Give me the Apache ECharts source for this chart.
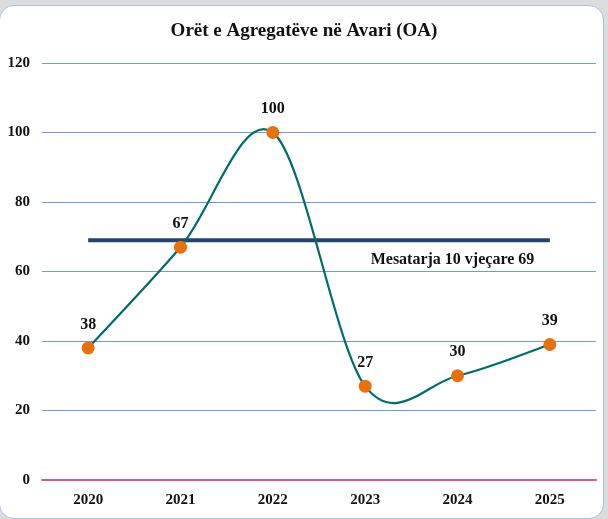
<!DOCTYPE html>
<html>
<head>
<meta charset="utf-8">
<script src="https://cdn.jsdelivr.net/npm/echarts@6/dist/echarts.min.js"></script>
<style>
  html, body { margin: 0; padding: 0; background: #dcdcdc; }
  #frame {
    position: absolute; left: -1px; top: 5px; width: 603px; height: 512px;
    background: #fff; border: 1.5px solid #a9c1e3; border-radius: 15px;
  }
  #chart { position: absolute; left: 0; top: 0; width: 608px; height: 519px; }
</style>
</head>
<body>
<div id="frame"></div>
<div id="chart"></div>
<script>
// te dhenat e grafikut
var years = ['2020', '2021', '2022', '2023', '2024', '2025'];
var hours = [38, 67, 100, 27, 30, 39];
var average = [69, 69, 69, 69, 69, 69];
var averageText = 'Mesatarja 10 vjeçare 69';
var yMin = 0, yMax = 120, yStep = 20;

var serif = '"Liberation Serif", "DejaVu Serif", serif';
var chart = echarts.init(document.getElementById('chart'), null, { renderer: 'canvas' });

// kurba e lemuar si ne Excel (Catmull-Rom), nje segment per cdo pike
function renderCurve(params, api) {
  var i = params.dataIndex;
  var n = hours.length;
  if (i >= n - 1) return null;
  var pt = function (k) {
    k = Math.max(0, Math.min(n - 1, k));
    return api.coord([k, hours[k]]);
  };
  var p0 = pt(i - 1), p1 = pt(i), p2 = pt(i + 1), p3 = pt(i + 2);
  return {
    type: 'bezierCurve',
    shape: {
      x1: p1[0], y1: p1[1],
      x2: p2[0], y2: p2[1],
      cpx1: p1[0] + (p2[0] - p0[0]) / 6, cpy1: p1[1] + (p2[1] - p0[1]) / 6,
      cpx2: p2[0] - (p3[0] - p1[0]) / 6, cpy2: p2[1] - (p3[1] - p1[1]) / 6
    },
    style: { stroke: '#006d6b', lineWidth: 2.2, fill: null }
  };
}

var averageData = average.map(function (v, i) {
  if (i !== 4) return v;
  return {
    value: v,
    label: {
      show: true,
      position: 'bottom',
      distance: 12,
      offset: [-5, 0],
      formatter: averageText,
      fontFamily: serif,
      fontWeight: 'bold',
      fontSize: 16,
      color: '#111'
    }
  };
});

var option = {
  backgroundColor: 'transparent',
  animation: false,
  title: {
    text: 'Orët e Agregatëve në Avari (OA)',
    left: 'center',
    top: 17,
    textStyle: { fontFamily: serif, fontWeight: 'bold', fontSize: 19, color: '#111' }
  },
  grid: { left: 42, right: 12, top: 63, bottom: 39 },
  xAxis: {
    type: 'category',
    data: years,
    axisLine: { show: true, lineStyle: { color: '#e0569a', width: 2 } },
    axisTick: { show: false },
    axisLabel: { fontFamily: serif, fontWeight: 'bold', fontSize: 15, color: '#111', margin: 13 }
  },
  yAxis: {
    type: 'value',
    min: yMin,
    max: yMax,
    interval: yStep,
    axisLine: { show: false },
    axisTick: { show: false },
    axisLabel: { fontFamily: serif, fontWeight: 'bold', fontSize: 15, color: '#111', margin: 12 },
    splitLine: { lineStyle: { color: '#6f9bd8', width: 1 } }
  },
  series: [
    {
      name: 'mesatarja',
      type: 'line',
      data: averageData,
      symbol: 'circle',
      symbolSize: 0,
      showSymbol: true,
      lineStyle: { color: '#22456f', width: 4 },
      itemStyle: { color: '#22456f' },
      label: { show: false },
      z: 2
    },
    {
      name: 'kurba',
      type: 'custom',
      renderItem: renderCurve,
      data: hours,
      z: 3
    },
    {
      name: 'ore',
      type: 'line',
      data: hours,
      symbol: 'circle',
      symbolSize: 13,
      lineStyle: { width: 0, opacity: 0 },
      itemStyle: { color: '#e8710c' },
      label: {
        show: true,
        position: 'top',
        distance: 9,
        fontFamily: serif,
        fontWeight: 'bold',
        fontSize: 16,
        color: '#111'
      },
      z: 4
    }
  ]
};

chart.setOption(option);
</script>
</body>
</html>
